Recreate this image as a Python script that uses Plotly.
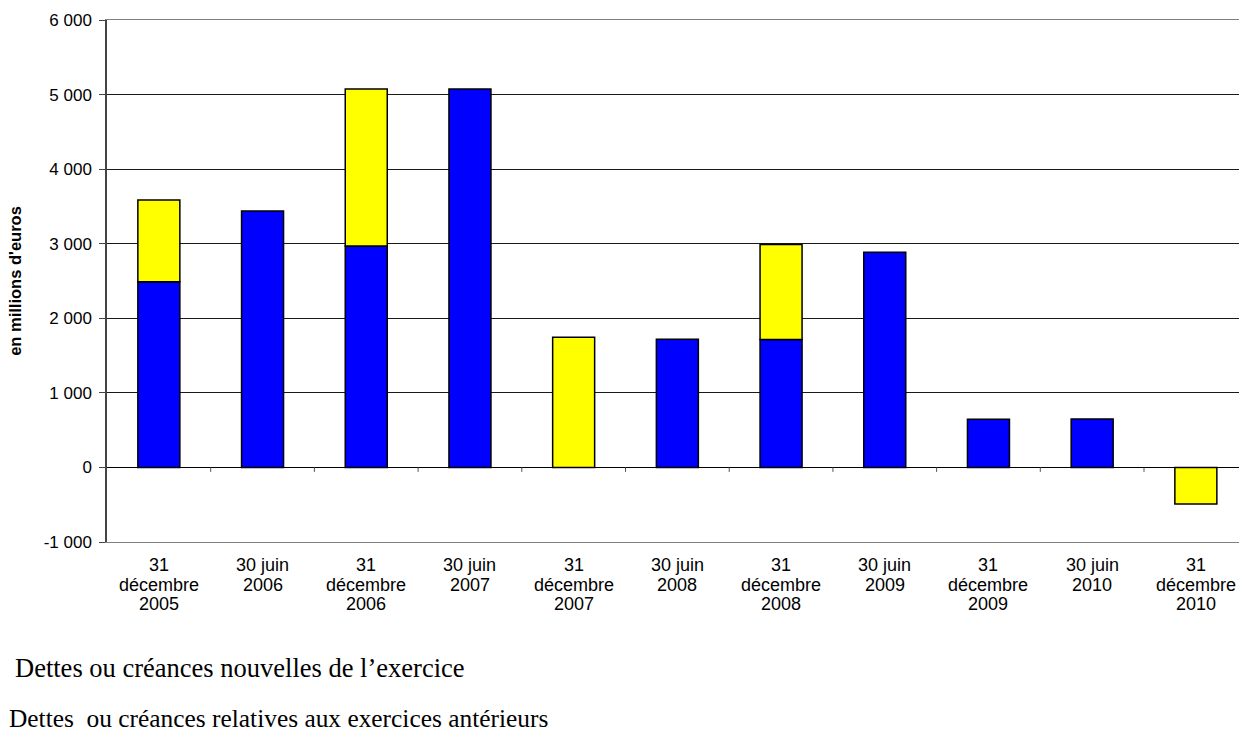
import plotly.graph_objects as go

# Dates de clôture (semestrielles)
periodes = [
    "31\ndécembre\n2005", "30 juin\n2006", "31\ndécembre\n2006",
    "30 juin\n2007", "31\ndécembre\n2007", "30 juin\n2008",
    "31\ndécembre\n2008", "30 juin\n2009", "31\ndécembre\n2009",
    "30 juin\n2010", "31\ndécembre\n2010",
]

# Montants en millions d'euros
nouvelles = [2490, 3440, 2970, 5075, None, 1720, 1715, 2885, 645, 648, None]
anterieures = [1095, None, 2105, None, 1745, None, 1275, None, None, None, -490]

legende_1 = "Dettes ou créances nouvelles de l\u2019exercice"
legende_2 = "Dettes  ou créances relatives aux exercices antérieurs"

y_ticks = [-1000, 0, 1000, 2000, 3000, 4000, 5000, 6000]
y_labels = ["-1 000", "0", "1 000", "2 000", "3 000", "4 000", "5 000", "6 000"]

x_pos = list(range(len(periodes)))

W, H = 1239, 735
ML, MT, MB = 107, 20, 193
PW, PH = W - ML, H - MT - MB

fig = go.Figure()
fig.add_trace(go.Bar(
    x=x_pos, y=nouvelles, name=legende_1, width=0.405,
    marker=dict(color="#0000FF", line=dict(color="#000000", width=1.5)),
))
fig.add_trace(go.Bar(
    x=x_pos, y=anterieures, name=legende_2, width=0.405,
    marker=dict(color="#FFFF00", line=dict(color="#000000", width=1.5)),
))

# petites graduations de l'axe des catégories, sur la ligne du zéro
for i in range(len(periodes) - 1):
    fig.add_shape(type="line", xref="x", yref="y",
                  x0=i + 0.5, x1=i + 0.5, y0=0, y1=-60,
                  line=dict(color="#555555", width=1))

# libellés des catégories, ligne par ligne (interligne serré)
for i, lib in enumerate(periodes):
    for k, ligne in enumerate(lib.split("\n")):
        fig.add_annotation(text=ligne, x=i, xref="x", y=0, yref="paper",
                           yshift=-(23 + 19.5 * k), yanchor="middle",
                           xanchor="center", showarrow=False,
                           font=dict(size=18))

fig.update_layout(
    width=W, height=H,
    margin=dict(l=ML, r=0, t=MT, b=MB),
    barmode="relative",
    showlegend=False,
    plot_bgcolor="white", paper_bgcolor="white",
    font=dict(family="Arial, Liberation Sans, sans-serif", size=17, color="#000000"),
)

fig.update_xaxes(
    range=[-0.5, 10.416],
    tickmode="array", tickvals=x_pos, ticktext=[""] * len(x_pos),
    ticks="", showticklabels=False,
    showgrid=False, zeroline=False,
    showline=True, mirror=True, linecolor="#808080", linewidth=1,
)

fig.update_yaxes(
    range=[-1000, 6000],
    tickmode="array", tickvals=y_ticks, ticktext=y_labels,
    ticks="outside", ticklen=6, tickcolor="#444444", ticklabelstandoff=4,
    showgrid=True, gridcolor="#1a1a1a", gridwidth=1,
    zeroline=True, zerolinecolor="#000000", zerolinewidth=1,
    showline=True, linecolor="#444444", linewidth=1.5,
    tickfont=dict(size=17),
    title=dict(text="<b>en millions d'euros</b>", font=dict(size=16.5), standoff=18),
)

fig.add_annotation(text=legende_1, xref="paper", yref="paper",
                   x=(13 - ML) / PW, y=-(668 - (MT + PH)) / PH,
                   xanchor="left", yanchor="middle", showarrow=False,
                   font=dict(family="Liberation Serif, Times New Roman, serif", size=26.5))
fig.add_annotation(text=legende_2, xref="paper", yref="paper",
                   x=(7 - ML) / PW, y=-(718 - (MT + PH)) / PH,
                   xanchor="left", yanchor="middle", showarrow=False,
                   font=dict(family="Liberation Serif, Times New Roman, serif", size=25.4))

fig.write_html("out.html")
